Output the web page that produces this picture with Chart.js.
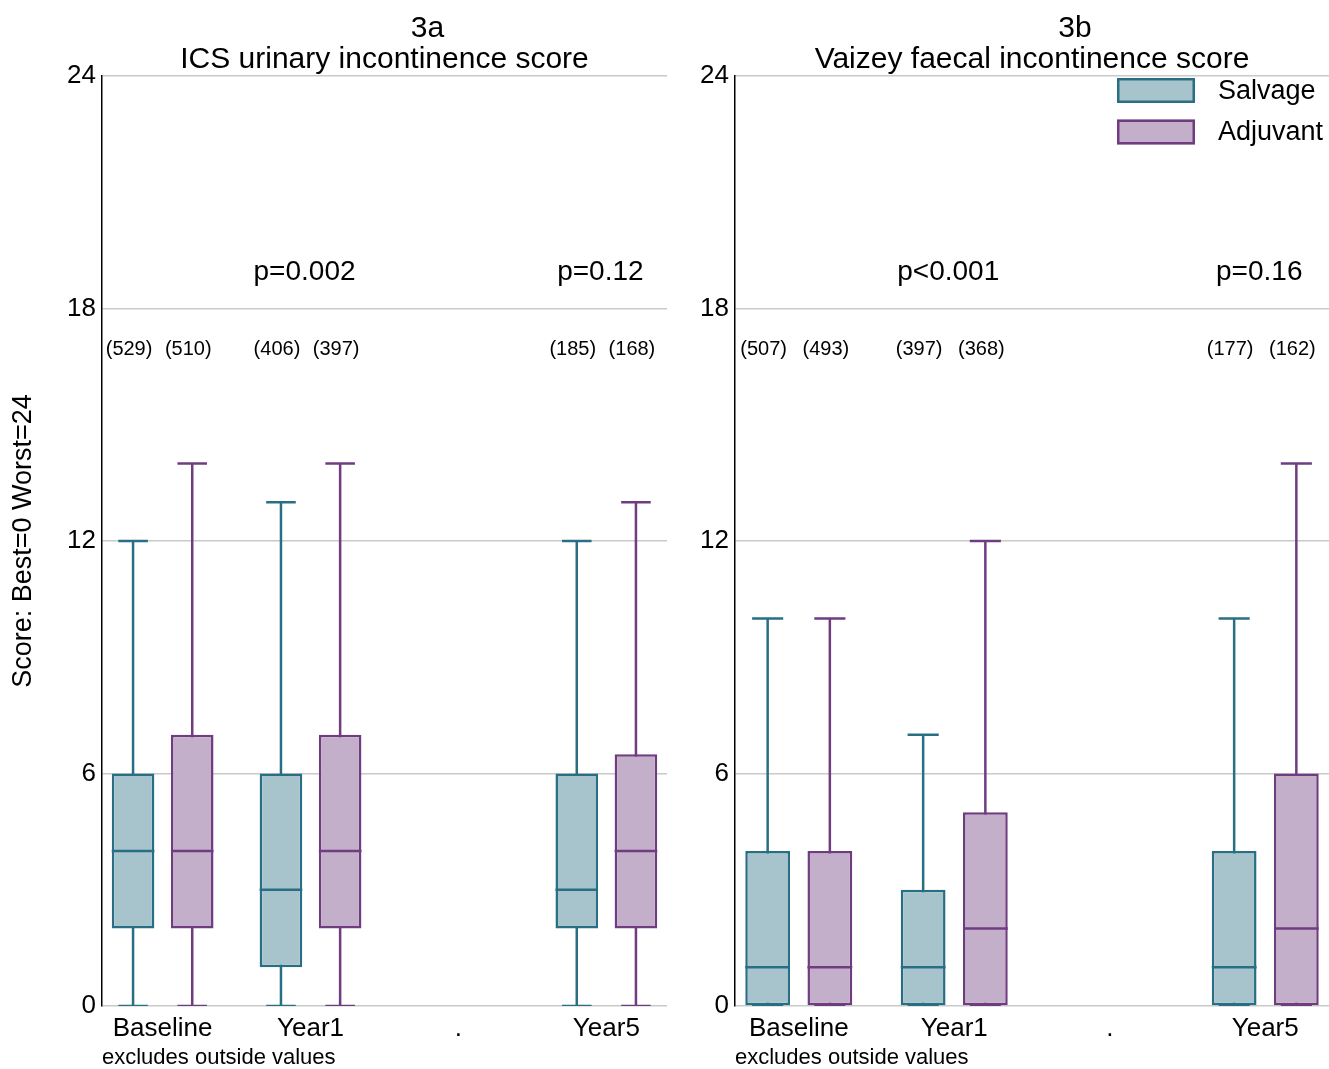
<!DOCTYPE html>
<html>
<head>
<meta charset="utf-8">
<script src="https://cdn.jsdelivr.net/npm/chart.js@4/dist/chart.umd.min.js"></script>
<style>
  html, body { margin: 0; padding: 0; background: #fff; }
  #wrap { position: relative; width: 1329px; height: 1069px; overflow: hidden; }
  canvas { position: absolute; top: 0; }
  #urinary { left: 0; }
  #faecal { left: 680px; }
</style>
</head>
<body>
<div id="wrap">
  <canvas id="urinary" width="690" height="1069"></canvas>
  <canvas id="faecal" width="649" height="1069"></canvas>
</div>
<script>
// Time points along the x axis ("." is an empty slot between Year1 and Year5)
const categories = ['Baseline', 'Year1', '.', 'Year5'];
const yTicks = [0, 6, 12, 18, 24];

// 3a: ICS urinary incontinence score (box: q1..q3, whiskers: low..high)
const urinarySalvageLow    = [0, 0, null, 0];
const urinarySalvageQ1     = [2, 1, null, 2];
const urinarySalvageMedian = [4, 3, null, 3];
const urinarySalvageQ3     = [6, 6, null, 6];
const urinarySalvageHigh   = [12, 13, null, 12];
const urinarySalvageN      = [529, 406, null, 185];

const urinaryAdjuvantLow    = [0, 0, null, 0];
const urinaryAdjuvantQ1     = [2, 2, null, 2];
const urinaryAdjuvantMedian = [4, 4, null, 4];
const urinaryAdjuvantQ3     = [7, 7, null, 6.5];
const urinaryAdjuvantHigh   = [14, 14, null, 13];
const urinaryAdjuvantN      = [510, 397, null, 168];

const urinaryPValues = [null, 'p=0.002', null, 'p=0.12'];

// 3b: Vaizey faecal incontinence score
const faecalSalvageLow    = [0, 0, null, 0];
const faecalSalvageQ1     = [0, 0, null, 0];
const faecalSalvageMedian = [1, 1, null, 1];
const faecalSalvageQ3     = [4, 3, null, 4];
const faecalSalvageHigh   = [10, 7, null, 10];
const faecalSalvageN      = [507, 397, null, 177];

const faecalAdjuvantLow    = [0, 0, null, 0];
const faecalAdjuvantQ1     = [0, 0, null, 0];
const faecalAdjuvantMedian = [1, 2, null, 2];
const faecalAdjuvantQ3     = [4, 5, null, 6];
const faecalAdjuvantHigh   = [10, 12, null, 14];
const faecalAdjuvantN      = [493, 368, null, 162];

const faecalPValues = [null, 'p<0.001', null, 'p=0.16'];

// ---- styling / layout ----
const FONT = "'Liberation Sans', Arial, Helvetica, sans-serif";
Chart.defaults.font.family = FONT;
Chart.defaults.color = '#000';

const COLORS = {
  Salvage:  { fill: 'rgb(167,196,204)', line: 'rgb(40,110,132)' },
  Adjuvant: { fill: 'rgb(196,175,202)', line: 'rgb(112,60,128)' }
};
const GROUP_SHIFT = 0.2;     // offset of each group from the time point
const MEDIAN_HALF = 0.144;   // half box width (x units)
const CAP_HALF = 0.1;        // half whisker cap width (x units)
const P_LEVEL = 19;          // height of p-value labels (score units)
const N_LEVEL = 17;          // height of sample size labels (score units)

function halfWidthPx(chart, units) {
  const s = chart.scales.x;
  return Math.abs(s.getPixelForValue(units) - s.getPixelForValue(0));
}

function groupDatasets(name, shift, st) {
  const c = COLORS[name];
  const idx = categories.map((_, i) => i).filter(i => st.median[i] !== null);
  const at = i => i + shift;
  return [
    { type: 'bar', label: name + ' whiskers',
      data: idx.map(i => ({ x: at(i), y: [st.low[i], st.high[i]] })),
      backgroundColor: c.line, borderWidth: 0, maxBarThickness: 2.5, grouped: false, order: 3 },
    { type: 'bar', label: name, isBox: true,
      data: idx.map(i => ({ x: at(i), y: [st.q1[i], st.q3[i]] })),
      backgroundColor: c.fill, borderColor: c.line, borderWidth: 2.5, borderSkipped: false,
      grouped: false, order: 2 },
    { type: 'line', label: name + ' median', showLine: false,
      data: idx.map(i => ({ x: at(i), y: st.median[i] })),
      pointStyle: 'line', pointRadius: ctx => halfWidthPx(ctx.chart, MEDIAN_HALF),
      pointBorderColor: c.line, pointBorderWidth: 2.5, order: 1 },
    { type: 'line', label: name + ' caps', showLine: false,
      data: idx.flatMap(i => [{ x: at(i), y: st.low[i] }, { x: at(i), y: st.high[i] }]),
      pointStyle: 'line', pointRadius: ctx => halfWidthPx(ctx.chart, CAP_HALF),
      pointBorderColor: c.line, pointBorderWidth: 2.5, order: 1 }
  ];
}

// Panel heading, p-values and group sizes
const panelText = {
  id: 'panelText',
  afterDatasetsDraw(chart, args, opts) {
    const { ctx, chartArea: a, scales: { x, y } } = chart;
    ctx.save();
    ctx.fillStyle = '#000';
    ctx.textAlign = 'center';
    ctx.textBaseline = 'middle';
    const mid = (a.left + a.right) / 2;
    ctx.font = '30px ' + FONT;
    ctx.fillText(opts.panel, mid + 43, a.top - 47);
    ctx.fillText(opts.title, mid, a.top - 16);
    ctx.font = '28px ' + FONT;
    opts.pValues.forEach((p, i) => {
      if (p) ctx.fillText(p, x.getPixelForValue(i) - 6, y.getPixelForValue(P_LEVEL) + 3);
    });
    ctx.font = '20px ' + FONT;
    [[opts.nSalvage, -GROUP_SHIFT], [opts.nAdjuvant, GROUP_SHIFT]].forEach(([ns, shift]) => {
      ns.forEach((n, i) => {
        if (n !== null) ctx.fillText('(' + n + ')', x.getPixelForValue(i + shift) - 4, y.getPixelForValue(N_LEVEL) + 2);
      });
    });
    ctx.restore();
  }
};

// Legend keyed on the box datasets
const boxLegend = {
  id: 'boxLegend',
  afterDatasetsDraw(chart, args, opts) {
    if (!opts.display) return;
    const { ctx, chartArea: a } = chart;
    const boxes = chart.data.datasets.filter(d => d.isBox);
    ctx.save();
    ctx.font = '27px ' + FONT;
    ctx.textBaseline = 'middle';
    ctx.textAlign = 'left';
    boxes.forEach((d, k) => {
      const w = 78, h = 25;
      const left = a.right - 212, top = a.top + 2 + k * 41.5;
      ctx.fillStyle = d.backgroundColor;
      ctx.fillRect(left, top, w, h);
      ctx.strokeStyle = d.borderColor;
      ctx.lineWidth = 2.5;
      ctx.strokeRect(left + 1.25, top + 1.25, w - 2.5, h - 2.5);
      ctx.fillStyle = '#000';
      ctx.fillText(d.label, left + 101, top + h / 2 + 1);
    });
    ctx.restore();
  }
};

function makeChart(canvasId, cfg) {
  const datasets = [
    ...groupDatasets('Salvage', -GROUP_SHIFT, cfg.salvage),
    ...groupDatasets('Adjuvant', GROUP_SHIFT, cfg.adjuvant)
  ];
  return new Chart(document.getElementById(canvasId), {
    type: 'bar',
    data: { datasets },
    options: {
      responsive: false,
      animation: false,
      events: [],
      layout: { padding: { left: 0, right: cfg.padRight, top: 76, bottom: 0 } },
      plugins: {
        legend: { display: false },
        tooltip: { enabled: false },
        panelText: cfg.text,
        boxLegend: { display: cfg.legend }
      },
      scales: {
        x: {
          type: 'linear', min: -0.41, max: 3.41, offset: false,
          grid: { display: false, offset: false },
          border: { display: false },
          afterBuildTicks: s => { s.ticks = categories.map((_, i) => ({ value: i })); },
          afterFit: s => { s.height = 63; },
          ticks: {
            callback: v => categories[v],
            font: { size: 26 }, color: '#000', padding: -1,
            maxRotation: 0, autoSkip: false
          },
          title: {
            display: true, text: 'excludes outside values', align: 'start',
            font: { size: 22 }, color: '#000', padding: { top: 0, bottom: -2 }
          }
        },
        y: {
          min: 0, max: 24,
          afterBuildTicks: s => { s.ticks = yTicks.map(v => ({ value: v })); },
          afterFit: s => { s.width = cfg.yWidth; },
          grid: { color: '#c9c9c9', lineWidth: 1.5, drawTicks: false },
          border: { display: true, color: '#000', width: 1.5 },
          ticks: { font: { size: 26 }, color: '#000', padding: 6 },
          title: cfg.yTitle
            ? { display: true, text: 'Score: Best=0 Worst=24', font: { size: 27 }, color: '#000', padding: { top: 7, bottom: 0 } }
            : { display: false }
        }
      }
    },
    plugins: [panelText, boxLegend]
  });
}

makeChart('urinary', {
  padRight: 23, yWidth: 102, yTitle: true, legend: false,
  salvage: { low: urinarySalvageLow, q1: urinarySalvageQ1, median: urinarySalvageMedian, q3: urinarySalvageQ3, high: urinarySalvageHigh },
  adjuvant: { low: urinaryAdjuvantLow, q1: urinaryAdjuvantQ1, median: urinaryAdjuvantMedian, q3: urinaryAdjuvantQ3, high: urinaryAdjuvantHigh },
  text: { panel: '3a', title: 'ICS urinary incontinence score', pValues: urinaryPValues, nSalvage: urinarySalvageN, nAdjuvant: urinaryAdjuvantN }
});

makeChart('faecal', {
  padRight: 0, yWidth: 55, yTitle: false, legend: true,
  salvage: { low: faecalSalvageLow, q1: faecalSalvageQ1, median: faecalSalvageMedian, q3: faecalSalvageQ3, high: faecalSalvageHigh },
  adjuvant: { low: faecalAdjuvantLow, q1: faecalAdjuvantQ1, median: faecalAdjuvantMedian, q3: faecalAdjuvantQ3, high: faecalAdjuvantHigh },
  text: { panel: '3b', title: 'Vaizey faecal incontinence score', pValues: faecalPValues, nSalvage: faecalSalvageN, nAdjuvant: faecalAdjuvantN }
});
</script>
</body>
</html>
